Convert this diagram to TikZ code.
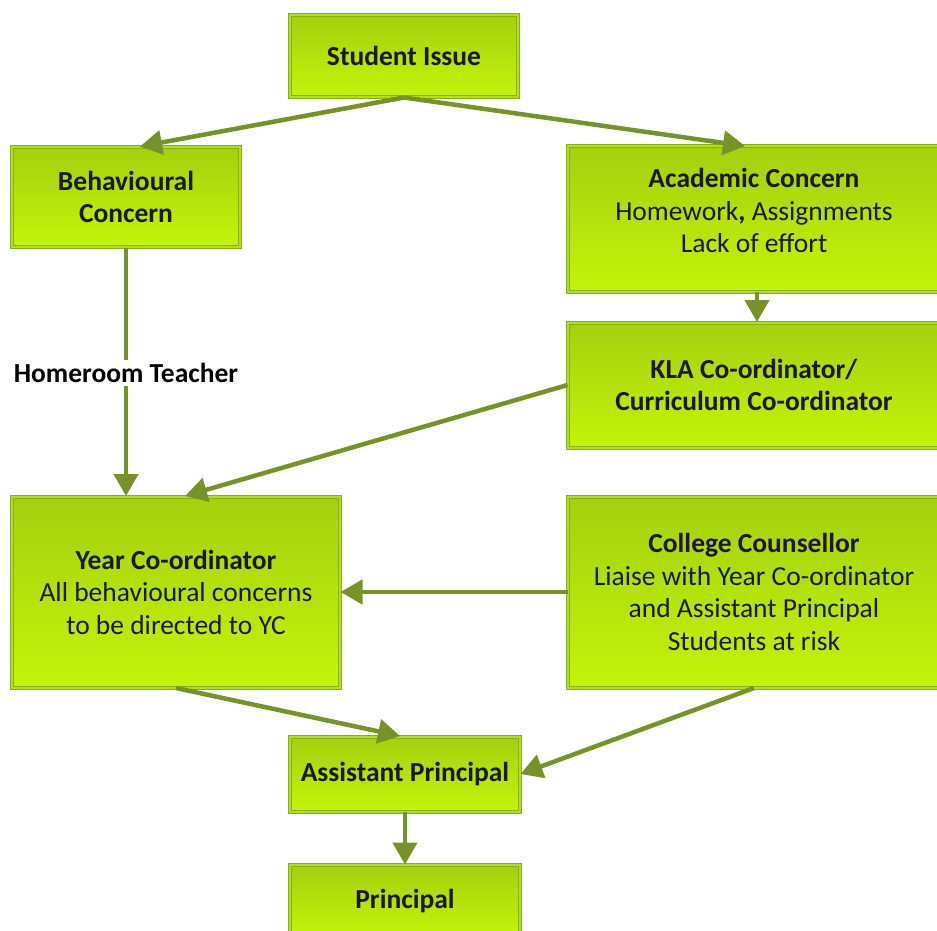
\documentclass[tikz,border=0pt]{standalone}
\usepackage{fontspec}
\setmainfont{Carlito}
\usetikzlibrary{arrows.meta, positioning, shadows}

\definecolor{boxtop}{RGB}{164,208,14}
\definecolor{boxbottom}{RGB}{196,244,10}
\definecolor{boxedge}{RGB}{134,176,20}
\definecolor{boxinner}{RGB}{178,222,40}
\definecolor{arrowgreen}{RGB}{118,146,40}

\begin{document}
\begin{tikzpicture}[
    x=1pt, y=-1pt,
    box/.style={rectangle, align=center, text=black!90,
        top color=boxtop, bottom color=boxbottom,
        draw=boxedge, line width=1pt, double=boxinner, double distance=2pt,
        drop shadow={shadow xshift=2pt, shadow yshift=-2pt, fill=black!25, opacity=0.5},
        font=\fontsize{27.5}{32.5}\selectfont, inner sep=2pt},
    label/.style={fill=white, font=\fontsize{27.5}{32.5}\selectfont\bfseries, inner sep=3pt},
    arrow/.style={-{Triangle[length=22pt, width=24pt]}, line width=4.5pt, draw=arrowgreen}
]
\clip (0,0) rectangle (937,931);

% Top
\node[box, minimum width=228pt, minimum height=82pt] (issue) at (404,56) {\textbf{Student Issue}};

% Concerns
\node[box, minimum width=228pt, minimum height=100pt] (behav) at (126,197) {\textbf{Behavioural}\\\textbf{Concern}};
\node[box, minimum width=372pt, minimum height=145pt] (acad) at (754,219) {\textbf{Academic Concern}\\Homework\textbf{,} Assignments\\Lack of effort\\[-16pt]};

% Co-ordinators
\node[box, minimum width=372pt, minimum height=125pt] (kla) at (754,385) {\textbf{KLA Co-ordinator/}\\\textbf{Curriculum Co-ordinator}};
\node[box, minimum width=328pt, minimum height=191pt] (year) at (176,592) {\textbf{Year Co-ordinator}\\All behavioural concerns\\to be directed to YC};
\node[box, minimum width=372pt, minimum height=191pt] (couns) at (754,592) {\textbf{College Counsellor}\\Liaise with Year Co-ordinator\\and Assistant Principal\\Students at risk};

% Principals
\node[box, minimum width=230pt, minimum height=75pt] (asst) at (405,774) {\textbf{Assistant Principal}};
\node[box, minimum width=230pt, minimum height=72pt] (princ) at (405,901) {\textbf{Principal}};

% Label on the left line
\node[label] (home) at (126,373) {Homeroom Teacher};

% Arrows
\draw[arrow] (issue.south) -- (behav.north -| 140,0);
\draw[arrow] (issue.south) -- (acad.north -| 745,0);
\draw[line width=4.5pt, draw=arrowgreen] (behav.south) -- (home.north);
\draw[arrow] (home.south) -- (year.north -| behav.south);
\draw[arrow] (acad.south -| 757,0) -- (kla.north -| 757,0);
\draw[arrow] (kla.west) -- (year.north -| 185,0);
\draw[arrow] (couns.west) -- (year.east);
\draw[arrow] (year.south) -- (asst.north -| 400,0);
\draw[arrow] (couns.south) -- (asst.east);
\draw[arrow] (asst.south) -- (princ.north);

\end{tikzpicture}
\end{document}
